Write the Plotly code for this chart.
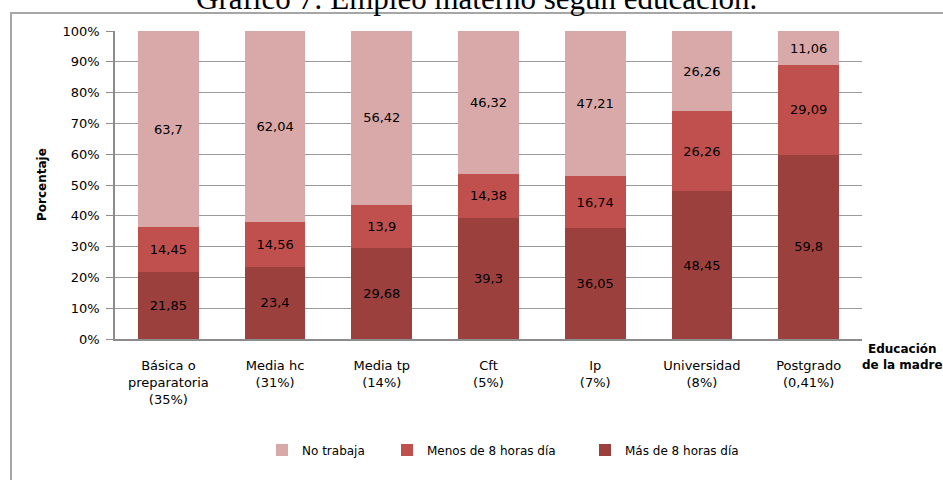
import plotly.graph_objects as go

categories = ["Básica o<br>preparatoria<br>(35%)", "Media hc<br>(31%)", "Media tp<br>(14%)",
              "Cft<br>(5%)", "Ip<br>(7%)", "Universidad<br>(8%)", "Postgrado<br>(0,41%)"]
no_trabaja = [63.7, 62.04, 56.42, 46.32, 47.21, 26.26, 11.06]
menos_8 = [14.45, 14.56, 13.9, 14.38, 16.74, 26.26, 29.09]
mas_8 = [21.85, 23.4, 29.68, 39.3, 36.05, 48.45, 59.8]
y_ticks = [0, 10, 20, 30, 40, 50, 60, 70, 80, 90, 100]

W, H = 943, 480
L, R, T, B = 115, 862, 31, 339


def px_x(x):
    return (x - L) / (R - L)


def px_y(y):
    return (B - y) / (B - T)


def fmt(v):
    return f"{v:g}".replace(".", ",")


FONT = "DejaVu Sans"
series = [
    ("Más de 8 horas día", mas_8, "#9C403E", "legend3"),
    ("Menos de 8 horas día", menos_8, "#C0504D", "legend2"),
    ("No trabaja", no_trabaja, "#D9A8A8", "legend"),
]

fig = go.Figure()
for name, vals, color, lg in series:
    fig.add_trace(go.Bar(
        x=categories, y=vals, name=name, marker=dict(color=color, line=dict(width=0)),
        text=[fmt(v) for v in vals], textposition="inside", insidetextanchor="middle",
        textangle=0, textfont=dict(family=FONT, size=13, color="#000000"),
        legend=lg,
    ))

legend_common = dict(orientation="h", yanchor="middle", xanchor="left",
                     font=dict(family=FONT, size=12, color="#000000"),
                     bgcolor="rgba(0,0,0,0)", itemwidth=30)
ly = px_y(450)

fig.update_layout(
    width=W, height=H,
    margin=dict(l=L, r=W - R, t=T, b=H - B),
    paper_bgcolor="white", plot_bgcolor="white",
    barmode="stack", barnorm="percent", bargap=0.43,
    showlegend=True,
    legend=dict(x=px_x(262), y=ly, **legend_common),
    legend2=dict(x=px_x(387), y=ly, **legend_common),
    legend3=dict(x=px_x(585), y=ly, **legend_common),
    font=dict(family=FONT, size=13, color="#000000"),
    uniformtext=dict(minsize=13, mode="show"),
)
fig.update_yaxes(range=[0, 100], tickvals=y_ticks, ticktext=[f"{v}%" for v in y_ticks],
                 showgrid=True, gridcolor="#9A9A9A", gridwidth=1,
                 showline=True, linecolor="#8C8C8C", linewidth=1.5,
                 ticks="outside", ticklen=7, tickcolor="#8C8C8C",
                 ticklabelstandoff=4,
                 tickfont=dict(family=FONT, size=13, color="#000000"), zeroline=False)
fig.update_xaxes(showline=True, linecolor="#8C8C8C", linewidth=1.5, ticks="",
                 ticklabelstandoff=14,
                 tickfont=dict(family=FONT, size=13, color="#000000"))

# outer chart frame
fig.add_shape(type="rect", xref="paper", yref="paper",
              x0=px_x(11), x1=px_x(950), y0=px_y(490), y1=px_y(13),
              line=dict(color="#A6A6A6", width=2), fillcolor="rgba(0,0,0,0)", layer="below")

# title (partly cropped at the top edge, as in the reference)
fig.add_annotation(text="Gráfico 7: Empleo materno según educación.", xref="paper", yref="paper",
                   x=px_x(476), y=px_y(-1), xanchor="center", yanchor="middle", showarrow=False,
                   font=dict(family="Liberation Serif", size=31, color="#000000"))
# y axis title
fig.add_annotation(text="<b>Porcentaje</b>", xref="paper", yref="paper",
                   x=px_x(42), y=px_y(185), xanchor="center", yanchor="middle", showarrow=False,
                   textangle=-90, font=dict(family=FONT, size=12, color="#000000"))
# x axis title
fig.add_annotation(text="<b>Educación<br>de la madre</b>", xref="paper", yref="paper",
                   x=px_x(902), y=px_y(357), xanchor="center", yanchor="middle", showarrow=False,
                   align="center", font=dict(family=FONT, size=12, color="#000000"))

fig.write_html("out.html", config={"displayModeBar": False},
               post_script="document.body.style.margin='0';document.body.style.overflow='hidden';")
